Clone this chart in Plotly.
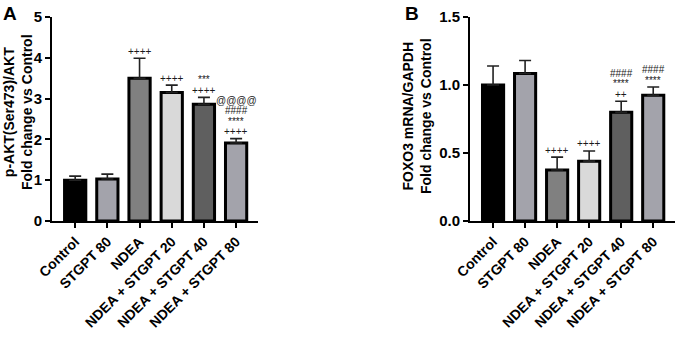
import plotly.graph_objects as go

categories = ["Control", "STGPT 80", "NDEA", "NDEA + STGPT 20", "NDEA + STGPT 40", "NDEA + STGPT 80"]
bar_colors = ["#000000", "#a3a3ab", "#808080", "#d9d9d9", "#5f5f5f", "#a3a3ab"]

akt_values = [1.00, 1.03, 3.50, 3.15, 2.86, 1.91]
akt_errors = [0.10, 0.12, 0.49, 0.18, 0.17, 0.11]
akt_labels = [[], [], ["++++"], ["++++"], ["++++", "***"], ["++++", "****", "####", "@@@@"]]

foxo_values = [1.00, 1.085, 0.375, 0.44, 0.80, 0.925]
foxo_errors = [0.14, 0.095, 0.095, 0.075, 0.08, 0.06]
foxo_labels = [[], [], ["++++"], ["++++"], ["++", "****", "####"], ["****", "####"]]

W, H = 678, 341
FONT = "Arial, Liberation Sans, sans-serif"
fig = go.Figure()

def add_panel(values, errors, xa, ya):
    fig.add_trace(go.Bar(
        x=categories, y=values, xaxis=xa, yaxis=ya,
        marker=dict(color=bar_colors, line=dict(color="#000000", width=3)),
        width=0.66,
        error_y=dict(type="data", array=errors, arrayminus=[0]*len(errors),
                     symmetric=False, color="#222222", thickness=1.6, width=6),
        showlegend=False, hoverinfo="skip",
    ))

add_panel(akt_values, akt_errors, "x", "y")
add_panel(foxo_values, foxo_errors, "x2", "y2")

for vals, errs, labs, xr, yr in [(akt_values, akt_errors, akt_labels, "x", "y"),
                                  (foxo_values, foxo_errors, foxo_labels, "x2", "y2")]:
    for c, v, e, lines in zip(categories, vals, errs, labs):
        for i, t in enumerate(lines):
            fig.add_annotation(x=c, y=v + e, xref=xr, yref=yr, text=t, showarrow=False,
                               yanchor="middle", yshift=7 + 10.5 * i,
                               font=dict(family=FONT, size=10, color="#1a1a1a"))

tickfont = dict(family=FONT, size=15, color="#000000", weight="bold")
xtickfont = dict(family=FONT, size=14, color="#000000", weight="bold")

common_x = dict(type="category", range=[-0.72, 5.68], showline=True, linecolor="#000000", linewidth=2,
                ticks="outside", ticklen=5, tickwidth=1.5, tickcolor="#000000", tickangle=-45,
                tickfont=xtickfont, showgrid=False, zeroline=False, automargin=False)
common_y = dict(showline=True, linecolor="#000000", linewidth=2, ticks="outside", ticklen=5,
                tickwidth=1.5, tickcolor="#000000", tickfont=tickfont, showgrid=False, zeroline=False,
                automargin=False)

ydom = [1 - 221 / H, 1 - 17 / H]
fig.update_layout(
    width=W, height=H, margin=dict(l=0, r=0, t=0, b=0, pad=0), autosize=False,
    paper_bgcolor="white", plot_bgcolor="white", bargap=0.3,
    xaxis=dict(domain=[52 / W, 258 / W], anchor="y", **common_x),
    yaxis=dict(domain=ydom, anchor="x", range=[0, 5], tickvals=[0, 1, 2, 3, 4, 5], **common_y),
    xaxis2=dict(domain=[470 / W, 675 / W], anchor="y2", **common_x),
    yaxis2=dict(domain=ydom, anchor="x2", range=[0, 1.5], tickvals=[0, 0.5, 1.0, 1.5],
                tickformat=".1f", **common_y),
)

titlefont = dict(family=FONT, size=14, color="#000000", weight="bold")
fig.add_annotation(x=18 / W, y=1 - 112 / H, xref="paper", yref="paper", textangle=-90,
                   text="p-AKT(Ser473)/AKT<br>Fold change vs Control", showarrow=False,
                   font=titlefont, xanchor="center", yanchor="middle")
fig.add_annotation(x=417 / W, y=1 - 116 / H, xref="paper", yref="paper", textangle=-90,
                   text="FOXO3 mRNA/GAPDH<br>Fold change vs Control", showarrow=False,
                   font=titlefont, xanchor="center", yanchor="middle")

panelfont = dict(family=FONT, size=19, color="#000000", weight="bold")
fig.add_annotation(x=1 / W, y=1 - 1 / H, xref="paper", yref="paper", text="A", showarrow=False,
                   font=panelfont, xanchor="left", yanchor="top")
fig.add_annotation(x=403 / W, y=1 - 1 / H, xref="paper", yref="paper", text="B", showarrow=False,
                   font=panelfont, xanchor="left", yanchor="top")

fig.write_html("out.html", config={"displayModeBar": False},
               post_script="document.body.style.margin='0';document.body.style.overflow='hidden';")
